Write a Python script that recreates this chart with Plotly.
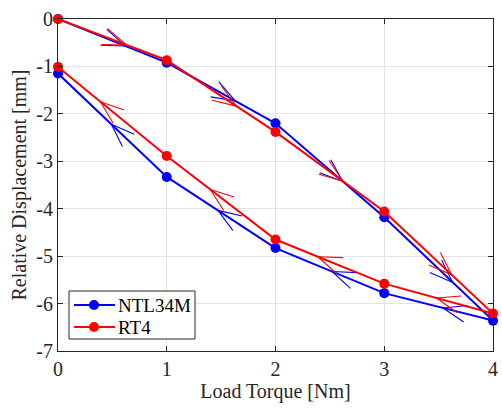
import math
import plotly.graph_objects as go

# ---- data ----
torque_path = [0, 1, 2, 3, 4, 3, 2, 1, 0]
ntl34m_disp = [0, -0.92, -2.2, -4.18, -6.36, -5.78, -4.83, -3.33, -1.15]
rt4_disp = [0, -0.87, -2.38, -4.06, -6.21, -5.58, -4.65, -2.89, -1.01]
series_names = ["NTL34M", "RT4"]
series_colors = ["#0000FF", "#FF0000"]
y_ticks = [-7, -6, -5, -4, -3, -2, -1, 0]
y_tick_labels = ["-7", "-6", "-5", "-4", "-3", "-2", "-1", "0"]
x_ticks = [0, 1, 2, 3, 4]

# arrow placement (fraction of each segment where the arrow tip sits)
ntl_arrow_frac = [0.62, 0.63, 0.62, 0.63, 0.46, 0.48, 0.53, 0.51]
rt4_arrow_frac = [0.63, 0.64, 0.62, 0.62, 0.52, 0.61, 0.60, 0.61]

W, H = 502, 410
ML, MR, MT, MB = 58, 9, 19, 59
PW, PH = W - ML - MR, H - MT - MB
XR = [0, 4]
YR = [-7, 0]
sx = PW / (XR[1] - XR[0])
sy = PH / (YR[1] - YR[0])

FONT = "Liberation Serif"
TXT = "#262626"
fig = go.Figure()


def px2paper_x(px):
    return (px - ML) / PW


def px2paper_y(py):
    return (H - MB - py) / PH


def arrow_trace(xs, ys, fracs, color):
    ax, ay = [], []
    L = 25.0
    ang = math.radians(20)
    for i in range(len(xs) - 1):
        x0, y0, x1, y1 = xs[i], ys[i], xs[i + 1], ys[i + 1]
        f = fracs[i]
        tx = x0 + f * (x1 - x0)
        ty = y0 + f * (y1 - y0)
        dx = (x1 - x0) * sx
        dy = (y1 - y0) * sy
        th = math.atan2(dy, dx) + math.pi
        for s in (1, -1):
            a = th + s * ang
            bx = tx + L * math.cos(a) / sx
            by = ty + L * math.sin(a) / sy
            ax += [bx, tx, None]
            ay += [by, ty, None]
    return go.Scatter(x=ax, y=ay, mode="lines", line=dict(color=color, width=1.1),
                      showlegend=False, hoverinfo="skip", cliponaxis=False)


for name, ys, fr, col in [(series_names[0], ntl34m_disp, ntl_arrow_frac, series_colors[0]),
                          (series_names[1], rt4_disp, rt4_arrow_frac, series_colors[1])]:
    fig.add_trace(go.Scatter(x=torque_path, y=ys, mode="lines+markers", name=name,
                             line=dict(color=col, width=2), cliponaxis=False, showlegend=False,
                             marker=dict(color=col, size=10, symbol="circle")))
    fig.add_trace(arrow_trace(torque_path, ys, fr, col))

# ---- MATLAB-style legend box (compact rows) ----
LEG_X0, LEG_X1, LEG_Y0, LEG_Y1 = 69, 195, 291, 339
row_y = [305, 327]
shapes = [dict(type="rect", xref="paper", yref="paper",
               x0=px2paper_x(LEG_X0), x1=px2paper_x(LEG_X1),
               y0=px2paper_y(LEG_Y1), y1=px2paper_y(LEG_Y0),
               line=dict(color=TXT, width=1), fillcolor="white", layer="above")]
annotations = []
for name, col, ry in zip(series_names, series_colors, row_y):
    shapes.append(dict(type="line", xref="paper", yref="paper",
                       x0=px2paper_x(74), x1=px2paper_x(115),
                       y0=px2paper_y(ry), y1=px2paper_y(ry),
                       line=dict(color=col, width=2), layer="above"))
    shapes.append(dict(type="circle", xref="paper", yref="paper",
                       x0=px2paper_x(89), x1=px2paper_x(99),
                       y0=px2paper_y(ry + 5), y1=px2paper_y(ry - 5),
                       line=dict(color=col, width=0), fillcolor=col, layer="above"))
    annotations.append(dict(xref="paper", yref="paper", x=px2paper_x(116), y=px2paper_y(ry),
                            text=name, showarrow=False, xanchor="left", yanchor="middle",
                            font=dict(family=FONT, size=19, color="#000000")))

axis_common = dict(showline=True, linecolor=TXT, linewidth=1, mirror="ticks",
                   ticks="inside", ticklen=5, tickcolor=TXT, automargin=False,
                   showgrid=True, gridcolor="#E3E3E3", gridwidth=1, zeroline=False,
                   tickfont=dict(family=FONT, size=20, color=TXT))

fig.update_xaxes(range=XR, tickvals=x_ticks, ticktext=[str(v) for v in x_ticks],
                 title=dict(text="Load Torque [Nm]", font=dict(family=FONT, size=20, color=TXT),
                            standoff=4),
                 **axis_common)
fig.update_yaxes(range=YR, tickvals=y_ticks, ticktext=y_tick_labels,
                 title=dict(text="Relative Displacement [mm]", font=dict(family=FONT, size=20, color=TXT),
                            standoff=4),
                 **axis_common)

fig.update_layout(width=W, height=H, margin=dict(l=ML, r=MR, t=MT, b=MB, autoexpand=False),
                  paper_bgcolor="white", plot_bgcolor="white", showlegend=False,
                  font=dict(family=FONT, size=19, color="#000000"),
                  shapes=shapes, annotations=annotations)

fig.write_html("out.html", config={"displayModeBar": False},
               post_script="document.body.style.margin='0';document.body.style.overflow='hidden';")
